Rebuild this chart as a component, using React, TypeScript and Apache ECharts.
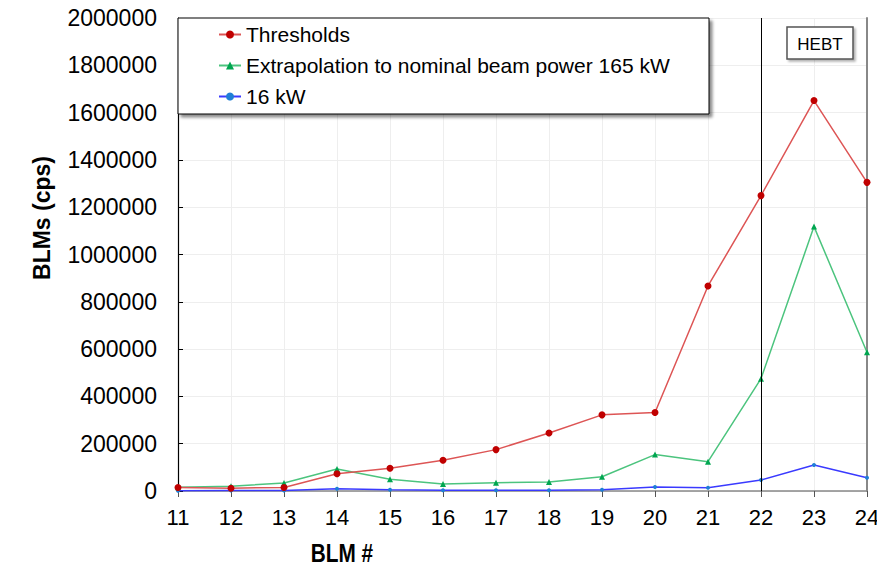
import React, { useEffect, useRef } from "react";
import * as echarts from "echarts";

const blm = [11, 12, 13, 14, 15, 16, 17, 18, 19, 20, 21, 22, 23, 24];
const thresholds = [15000, 12000, 15000, 73000, 96000, 130000, 175000, 245000, 322000, 332000, 867000, 1249000, 1651000, 1305000];
const extrapolation = [16000, 20000, 34000, 93000, 50000, 30000, 35000, 38000, 60000, 154000, 124000, 475000, 1118000, 587000];
const kw16 = [1000, 2000, 2000, 9500, 5500, 3000, 3000, 3000, 5500, 17000, 14000, 46500, 110000, 56000];
const seriesNames = ["Thresholds", "Extrapolation to nominal beam power 165 kW", "16 kW"];
const hebtAt = 22;

const FONT = "'Liberation Sans', Arial, sans-serif";

export default function App() {
  const ref = useRef<HTMLDivElement>(null);
  useEffect(() => {
    if (!ref.current) return;
    const chart = echarts.init(ref.current, undefined, { renderer: "svg" });
    const pair = (vals: number[]) => blm.map((b, i) => [b, vals[i]]);
    chart.setOption({
      animation: false,
      backgroundColor: "#fff",
      grid: { left: 178, right: 10, top: 18, bottom: 76, outerBoundsMode: "none", containLabel: false },
      xAxis: {
        type: "value",
        min: 11,
        max: 24,
        interval: 1,
        axisLine: { show: true, onZero: false, lineStyle: { color: "#888", width: 1.5 } },
        axisTick: { show: true, inside: false, length: 6, lineStyle: { color: "#555" } },
        axisLabel: { color: "#000", fontSize: 22, fontFamily: FONT, margin: 15 },
        splitLine: { show: true, lineStyle: { color: "#eeeeee" } },
      },
      yAxis: [
        {
          type: "value",
          min: 0,
          max: 2000000,
          interval: 200000,
          axisLine: { show: true, lineStyle: { color: "#000", width: 1.2 } },
          axisTick: { show: true, inside: true, length: 5, lineStyle: { color: "#000" } },
          axisLabel: { color: "#000", fontSize: 23, fontFamily: FONT, margin: 21, formatter: (v: number) => String(v) },
          splitLine: { show: true, lineStyle: { color: "#eeeeee" } },
        },
        {
          type: "value",
          position: "right",
          min: 0,
          max: 2000000,
          interval: 200000,
          axisLine: { show: true, lineStyle: { color: "#888", width: 2 } },
          axisTick: { show: false },
          axisLabel: { show: false },
          splitLine: { show: false },
        },
      ],
      legend: {
        orient: "vertical",
        left: 213,
        top: 19,
        itemWidth: 22,
        itemHeight: 10,
        itemGap: 10,
        z: 10,
        textStyle: { fontSize: 21, fontFamily: FONT, color: "#000" },
        data: [seriesNames[0], seriesNames[1], seriesNames[2]],
      },
      graphic: [
        {
          type: "rect",
          z: 5,
          shape: { x: 178, y: 18, width: 531, height: 96 },
          style: { fill: "#fff", stroke: "#000", lineWidth: 1, shadowBlur: 3, shadowOffsetX: 3, shadowOffsetY: 3, shadowColor: "rgba(0,0,0,0.45)" },
        },
        {
          type: "rect",
          z: 5,
          shape: { x: 787, y: 27, width: 66, height: 32 },
          style: { fill: "#fff", stroke: "#555", lineWidth: 1.5, shadowBlur: 2, shadowOffsetX: 2, shadowOffsetY: 2, shadowColor: "rgba(0,0,0,0.3)" },
        },
        {
          type: "text",
          z: 6,
          x: 820,
          y: 44,
          style: { text: "HEBT", font: `17px ${FONT}`, fill: "#000", align: "center", verticalAlign: "middle" },
        },
        {
          type: "text",
          z: 6,
          x: 42,
          y: 218,
          rotation: Math.PI / 2,
          style: { text: "BLMs (cps)", font: `bold 23px ${FONT}`, fill: "#000", align: "center", verticalAlign: "middle" },
        },
        {
          type: "text",
          z: 6,
          x: 342,
          y: 553,
          scaleX: 0.8,
          style: { text: "BLM #", font: `bold 26px ${FONT}`, fill: "#000", align: "center", verticalAlign: "middle" },
        },
      ],
      series: [
        {
          name: seriesNames[2],
          type: "line",
          data: pair(kw16),
          symbol: "circle",
          symbolSize: 4,
          itemStyle: { color: "#1f7fd6" },
          lineStyle: { color: "#3a3aff", width: 1.5 },
          z: 3,
        },
        {
          name: seriesNames[1],
          type: "line",
          data: pair(extrapolation),
          symbol: "triangle",
          symbolSize: 6,
          itemStyle: { color: "#00a650" },
          lineStyle: { color: "#4cc47e", width: 1.5 },
          z: 4,
        },
        {
          name: seriesNames[0],
          type: "line",
          data: pair(thresholds),
          symbol: "circle",
          symbolSize: 7,
          itemStyle: { color: "#c00000" },
          lineStyle: { color: "#dd5555", width: 1.5 },
          z: 5,
          markLine: {
            silent: true,
            symbol: "none",
            label: { show: false },
            lineStyle: { color: "#000", width: 1, type: "solid" },
            data: [{ xAxis: hebtAt }],
          },
        },
      ],
    });
    return () => chart.dispose();
  }, []);
  return <div ref={ref} style={{ width: 877, height: 567, position: "absolute", left: 0, top: 0 }} />;
}
